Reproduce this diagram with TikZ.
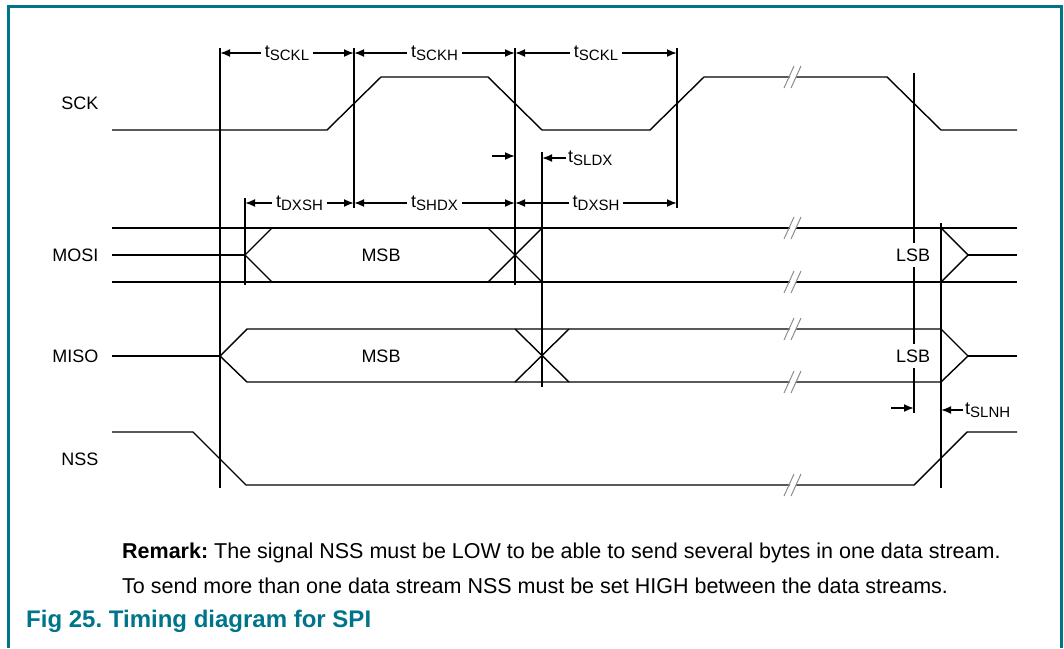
\documentclass[tikz,border=0pt]{standalone}
\usepackage{fontspec}
\setmainfont{Liberation Sans}
\usetikzlibrary{arrows.meta}
\definecolor{nxpteal}{RGB}{0, 116, 137}
\definecolor{breakgray}{rgb}{0.55, 0.55, 0.55}

\newcommand{\tsym}[1]{t\raisebox{-3pt}{\fontsize{15}{15}\selectfont #1}}
\frenchspacing

\tikzset{
  sig/.style={line width=1.4pt},
  refline/.style={line width=2.4pt},
  dim/.style={line width=1.8pt, {Latex[length=10pt,width=8pt]}-{Latex[length=10pt,width=8pt]}},
  onearrow/.style={line width=1.8pt, -{Latex[length=10pt,width=8pt]}},
  dimlabel/.style={fill=white, inner xsep=4pt, inner ysep=0pt},
  bitlabel/.style={fill=white, inner xsep=1pt, inner ysep=6pt}
}

\begin{document}
\begin{tikzpicture}[x=1pt, y=-1pt, font=\fontsize{18}{20}\selectfont]
      \useasboundingbox (0,0) rectangle (1064,648);

      % Frame
      \draw[nxpteal, line width=3pt] (8.5,648) -- (8.5,6) -- (1061,6) -- (1061,648);

      % Reference lines
      \draw[refline] (220,48) -- (220,488);
      \draw[refline] (354,48) -- (354,208);
      \draw[refline] (515,48) -- (515,285);
      \draw[refline] (677,48) -- (677,208);
      \draw[refline] (245,198) -- (245,285);
      \draw[refline] (542,152) -- (542,387);
      \draw[refline] (914,73) -- (914,413);
      \draw[refline] (941,223) -- (941,488);

      % SCK
      \node[anchor=east] (sck) at (102,103) {SCK};
      \draw[sig] (112,130) -- (327,130) -- (381,77) -- (488,77) -- (542,130)
        -- (650,130) -- (704,77) -- (887,77) -- (941,130) -- (1017,130);

      % MOSI
      \node[anchor=east] (mosi) at (102,255) {MOSI};
      \draw[sig, line width=1.8pt] (112,228) -- (1017,228);
      \draw[sig, line width=1.8pt] (112,282) -- (1017,282);
      \draw[sig] (112,255) -- (245,255);
      \draw[sig] (272,228) -- (245,255) -- (272,282);
      \draw[sig] (488,228) -- (542,282);
      \draw[sig] (488,282) -- (542,228);
      \draw[sig] (941,228) -- (968,255) -- (941,282);
      \draw[sig] (968,255) -- (1017,255);

      % MISO
      \node[anchor=east] (miso) at (102,356) {MISO};
      \draw[sig] (112,356) -- (220,356);
      \draw[sig] (941,329) -- (247,329) -- (220,356) -- (247,382) -- (941,382);
      \draw[sig] (515,329) -- (569,382);
      \draw[sig] (515,382) -- (569,329);
      \draw[sig] (941,329) -- (968,356) -- (941,382);
      \draw[sig] (968,356) -- (1017,356);

      % NSS
      \node[anchor=east] (nss) at (102,459) {NSS};
      \draw[sig] (112,432) -- (193,432) -- (246,485) -- (914,485) -- (967,432) -- (1017,432);

      % Breaks
      \foreach \y in {77, 228, 282, 329, 382, 485} {
        \fill[white] (786,\y+10) -- (792,\y+10) -- (800,\y-10) -- (794,\y-10) -- cycle;
        \draw[breakgray, line width=1pt] (784,\y+11) -- (794,\y-11);
        \draw[breakgray, line width=1pt] (791,\y+11) -- (801,\y-11);
      }

      % Timing marks
      \draw[dim] (220,53) -- (354,53) node[dimlabel, midway] (tsckl) {\tsym{SCKL}};
      \draw[dim] (354,53) -- (515,53) node[dimlabel, midway] (tsckh) {\tsym{SCKH}};
      \draw[dim] (515,53) -- (677,53) node[dimlabel, midway] (tsckl2) {\tsym{SCKL}};
      \draw[dim] (245,203) -- (354,203) node[dimlabel, midway] (tdxsh) {\tsym{DXSH}};
      \draw[dim] (354,203) -- (515,203) node[dimlabel, midway] (tshdx) {\tsym{SHDX}};
      \draw[dim] (515,203) -- (677,203) node[dimlabel, midway] (tdxsh2) {\tsym{DXSH}};

      \draw[onearrow] (492,156) -- (515,156);
      \node[anchor=west, inner xsep=2pt] (tsldx) at (566,158) {\tsym{SLDX}};
      \draw[onearrow] (tsldx.west) -- (542,158);

      \draw[onearrow] (891,408) -- (914,408);
      \node[anchor=west, inner xsep=2pt] (tslnh) at (963,410) {\tsym{SLNH}};
      \draw[onearrow] (tslnh.west) -- (941,410);

      % Bits
      \node (msbo) at (381,255) {MSB};
      \node (msbi) at (381,356) {MSB};
      \node[bitlabel] (lsbo) at (913,255) {LSB};
      \node[bitlabel] (lsbi) at (913,356) {LSB};

      % Remark
      \node[anchor=base west, inner sep=0pt, font=\fontsize{21.5}{23}\selectfont] (remark1) at (122,558)
        {\textbf{Remark:} The signal NSS must be LOW to be able to send several bytes in one data stream.};
      \node[anchor=base west, inner sep=0pt, font=\fontsize{21.5}{23}\selectfont] (remark2) at (122,593)
        {To send more than one data stream NSS must be set HIGH between the data streams.};

      \node[anchor=base west, inner sep=0pt, text=nxpteal, font=\bfseries\fontsize{24}{24}\selectfont]
        (caption) at (26,627) {Fig 25. Timing diagram for SPI};
    \end{tikzpicture}
\end{document}
